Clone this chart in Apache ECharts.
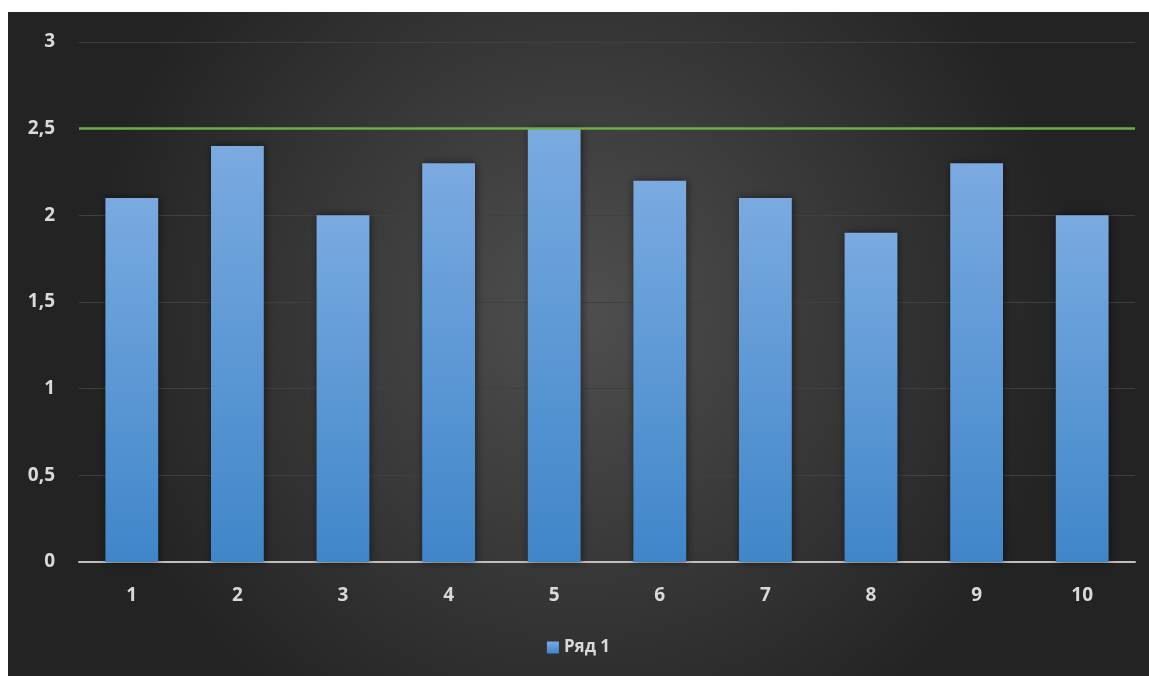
<!DOCTYPE html>
<html>
<head>
<meta charset="utf-8">
<script src="https://cdn.jsdelivr.net/npm/echarts@6/dist/echarts.min.js"></script>
<style>
  html, body { margin: 0; padding: 0; background: #ffffff; width: 1149px; height: 676px; overflow: hidden; }
  #chart { position: absolute; left: 8px; top: 12px; width: 1141px; height: 664px; }
</style>
</head>
<body>
<div id="chart"></div>
<script>
// Categories and series values
const categories = ['1', '2', '3', '4', '5', '6', '7', '8', '9', '10'];
const seriesName = 'Ряд 1';
const seriesValues = [2.1, 2.4, 2.0, 2.3, 2.5, 2.2, 2.1, 1.9, 2.3, 2.0];
const targetLevel = 2.5;
const yTicks = [0, 0.5, 1, 1.5, 2, 2.5, 3];

const chart = echarts.init(document.getElementById('chart'), null, { renderer: 'canvas' });

const labelFont = '"Open Sans", "DejaVu Sans", sans-serif';

chart.setOption({
  animation: false,
  backgroundColor: {
    type: 'radial', x: 0.5, y: 0.45, r: 0.75,
    colorStops: [
      { offset: 0, color: '#4f4f4f' },
      { offset: 1, color: '#232323' }
    ]
  },
  grid: { left: 71, right: 14, top: 30, bottom: 114 },
  legend: {
    top: 622,
    left: 'center',
    data: [seriesName],
    itemWidth: 12,
    itemHeight: 12,
    itemGap: 6,
    icon: 'rect',
    textStyle: { color: '#d9d9d9', fontSize: 17, fontWeight: 'bold', fontFamily: labelFont }
  },
  xAxis: {
    type: 'category',
    data: categories,
    axisLine: { lineStyle: { color: '#bfbfbf', width: 2 } },
    axisTick: { show: false },
    axisLabel: { color: '#d9d9d9', fontSize: 19, fontWeight: 'bold', fontFamily: labelFont, margin: 24 }
  },
  yAxis: {
    type: 'value',
    min: yTicks[0],
    max: yTicks[yTicks.length - 1],
    interval: 0.5,
    axisLine: { show: false },
    axisTick: { show: false },
    splitLine: { lineStyle: { color: '#404040', width: 1 } },
    axisLabel: {
      color: '#d9d9d9', fontSize: 19, fontWeight: 'bold', fontFamily: labelFont, margin: 24,
      formatter: v => String(v).replace('.', ',')
    }
  },
  series: [{
    name: seriesName,
    type: 'bar',
    data: seriesValues,
    barWidth: '50%',
    itemStyle: {
      color: {
        type: 'linear', x: 0, y: 0, x2: 0, y2: 1,
        colorStops: [
          { offset: 0, color: '#7aaae0' },
          { offset: 1, color: '#3f86c9' }
        ]
      },
      shadowColor: 'rgba(0,0,0,0.55)',
      shadowBlur: 8,
      shadowOffsetX: 1
    },
    markLine: {
      silent: true,
      symbol: 'none',
      label: { show: false },
      lineStyle: { color: '#70ad47', width: 2.5, type: 'solid' },
      data: [{ yAxis: targetLevel }]
    }
  }]
});
</script>
</body>
</html>
